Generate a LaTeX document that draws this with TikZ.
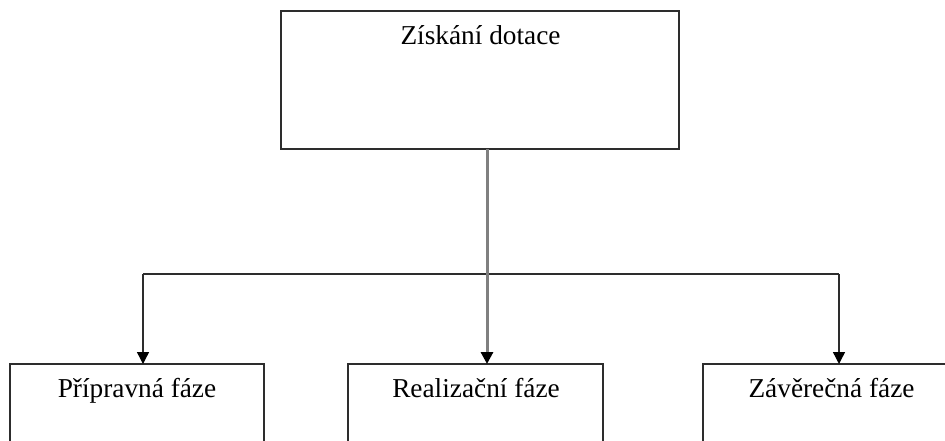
\documentclass[tikz,border=0pt]{standalone}
\usepackage{fontspec}
\setmainfont{Liberation Serif}
\usetikzlibrary{arrows.meta}
\definecolor{edgecol}{RGB}{45,45,45}
\definecolor{stemcol}{RGB}{128,128,128}
\begin{document}
\begin{tikzpicture}[x=1pt,y=-1pt,
  box/.style={draw=edgecol, line width=1.4pt, fill=white, rectangle,
    inner sep=0pt, outer sep=0pt, anchor=north west},
  lbl/.style={anchor=base, inner sep=0pt, font=\fontsize{27.3}{32}\selectfont},
  link/.style={draw=edgecol, line width=1.4pt},
  tip/.style={-{Triangle[width=12pt,length=12pt,color=black]}}]
  % canvas
  \useasboundingbox (0,0) rectangle (945,440);
  \fill[white] (0,0) rectangle (945,440);
  \clip (0,0) rectangle (945,440);

  % boxes
  \node[box, minimum width=398pt, minimum height=138pt] (top)   at (281,11)  {};
  \node[box, minimum width=254pt, minimum height=120pt] (left)  at (10,364)  {};
  \node[box, minimum width=255pt, minimum height=120pt] (mid)   at (348,364) {};
  \node[box, minimum width=257pt, minimum height=120pt] (right) at (703,364) {};

  % labels
  \node[lbl] (toptext)   at (480.5,44) {Získání dotace};
  \node[lbl] (lefttext)  at (137,397)  {Přípravná fáze};
  \node[lbl] (midtext)   at (476,397)  {Realizační fáze};
  \node[lbl] (righttext) at (831.5,397) {Závěrečná fáze};

  % branching points
  \coordinate (hub)   at (487,274);
  \coordinate (lhook) at (143,274);
  \coordinate (rhook) at (839,274);

  % connectors
  \draw[link] (lhook) -- (rhook);
  \draw[link, tip] (lhook) -- (left.north -| lhook);
  \draw[link, tip] (rhook) -- (right.north -| rhook);
  \draw[draw=stemcol, line width=3pt, tip] (top.south -| hub) -- (mid.north -| hub);
\end{tikzpicture}
\end{document}
